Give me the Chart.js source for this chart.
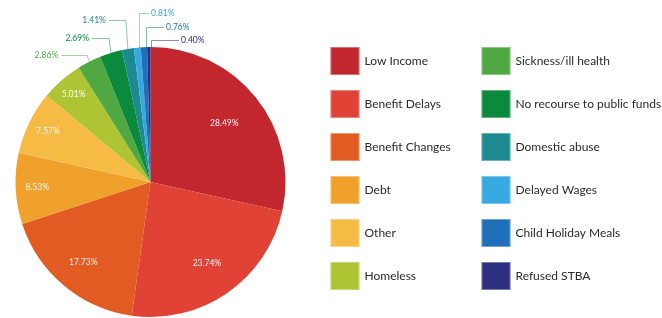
<!DOCTYPE html>
<html>
<head>
<meta charset="utf-8">
<script src="https://cdn.jsdelivr.net/npm/chart.js@4/dist/chart.umd.min.js"></script>
<style>
  html, body { margin: 0; padding: 0; background: #ffffff; }
  #wrap { position: relative; width: 662px; height: 318px; }
</style>
</head>
<body>
<div id="wrap"><canvas id="c" width="662" height="318"></canvas></div>
<script>
const categories = [
  "Low Income", "Benefit Delays", "Benefit Changes", "Debt", "Other", "Homeless",
  "Sickness/ill health", "No recourse to public funds", "Domestic abuse",
  "Delayed Wages", "Child Holiday Meals", "Refused STBA"
];
const percentages = [28.49, 23.74, 17.73, 8.53, 7.57, 5.01, 2.86, 2.69, 1.41, 0.81, 0.76, 0.40];
const sliceColors = [
  "#C1272D", "#E04236", "#E25B23", "#F0A12B", "#F5BB45", "#AFC432",
  "#50A843", "#0B8A3E", "#1D8A91", "#36A9E0", "#1F70B8", "#2E2E80"
];

const FONT = "Lato, 'Open Sans', sans-serif";

function fmt(v) { return v.toFixed(2) + "%"; }

function hexA(hex, a) {
  const n = parseInt(hex.slice(1), 16);
  return `rgba(${(n >> 16) & 255},${(n >> 8) & 255},${n & 255},${a})`;
}

const labelsPlugin = {
  id: "pieLabels",
  afterDatasetsDraw(chart) {
    const ctx = chart.ctx;
    const meta = chart.getDatasetMeta(0);
    const data = chart.data.datasets[0].data;
    const colors = chart.data.datasets[0].backgroundColor;
    ctx.save();
    ctx.font = "8.5px " + FONT;
    ctx.textBaseline = "middle";
    const leftGroup = [], rightGroup = [];
    meta.data.forEach((arc, i) => {
      const p = arc.getProps(["x", "y", "startAngle", "endAngle", "outerRadius"], true);
      const mid = (p.startAngle + p.endAngle) / 2;
      const R = p.outerRadius;
      const v = data[i];
      if (v >= 5) {
        const r = R * (0.9 - 0.007 * v);
        ctx.fillStyle = "rgba(255,255,255,0.95)";
        ctx.textAlign = "center";
        ctx.fillText(fmt(v), p.x + r * Math.cos(mid), p.y + r * Math.sin(mid));
      } else {
        const ex = p.x + R * Math.cos(mid), ey = p.y + R * Math.sin(mid);
        const item = { i, v, ex, ey, cx: p.x, cy: p.y, R, color: colors[i] };
        if (ex > p.x - 16) rightGroup.push(item); else leftGroup.push(item);
      }
    });
    ctx.lineWidth = 1;
    // left group: stacked upward from the lowest slice
    leftGroup.forEach((it, k) => {
      const top = it.cy - it.R;
      const ty = Math.round(top + 8 - 17.5 * k) + 0.5;
      const elbowX = it.ex - 2;
      const lineStart = elbowX - (k === 0 ? 26 : 17);
      ctx.strokeStyle = hexA(it.color, 0.5);
      ctx.beginPath();
      ctx.moveTo(lineStart, ty);
      ctx.lineTo(elbowX, ty);
      ctx.lineTo(it.ex, it.ey);
      ctx.stroke();
      ctx.fillStyle = it.color;
      ctx.textAlign = "right";
      ctx.fillText(fmt(it.v), lineStart - 3, ty);
    });
    // right group: stacked upward from the last slice
    rightGroup.slice().reverse().forEach((it, k) => {
      const top = it.cy - it.R;
      const ty = Math.round(top - 7 - 13.5 * k) + 0.5;
      const vx = Math.round(it.ex + 2) + 0.5;
      const tx = it.cx + 30.5 - 15 * k;
      ctx.strokeStyle = hexA(it.color, 0.55);
      ctx.beginPath();
      ctx.moveTo(vx, top + 1);
      ctx.lineTo(vx, ty);
      ctx.lineTo(tx - 2, ty);
      ctx.stroke();
      ctx.fillStyle = it.color;
      ctx.textAlign = "left";
      ctx.fillText(fmt(it.v), tx, ty);
    });
    ctx.restore();
  }
};

const legendPlugin = {
  id: "sideLegend",
  afterDraw(chart) {
    const ctx = chart.ctx;
    const labels = chart.data.labels;
    const colors = chart.data.datasets[0].backgroundColor;
    ctx.save();
    ctx.font = "12px " + FONT;
    ctx.textBaseline = "middle";
    ctx.textAlign = "left";
    labels.forEach((lab, i) => {
      const col = i < 6 ? 0 : 1;
      const row = i % 6;
      const bx = col === 0 ? 330.5 : 481.5;
      const by = 47 + row * 43;
      ctx.fillStyle = colors[i];
      ctx.fillRect(bx, by, 29, 28);
      ctx.strokeStyle = "rgba(255,255,255,0.35)";
      ctx.lineWidth = 1;
      ctx.strokeRect(bx + 0.5, by + 0.5, 28, 27);
      ctx.fillStyle = "#2a2a2a";
      ctx.fillText(lab, bx + 34, by + 14.5);
    });
    ctx.restore();
  }
};

new Chart(document.getElementById("c"), {
  type: "pie",
  data: {
    labels: categories,
    datasets: [{
      data: percentages,
      backgroundColor: sliceColors,
      borderWidth: 0
    }]
  },
  options: {
    responsive: false,
    animation: false,
    layout: { padding: { left: 15.5, top: 47, right: 376.5, bottom: 1 } },
    plugins: {
      legend: { display: false },
      tooltip: { enabled: false }
    }
  },
  plugins: [labelsPlugin, legendPlugin]
});
</script>
</body>
</html>
